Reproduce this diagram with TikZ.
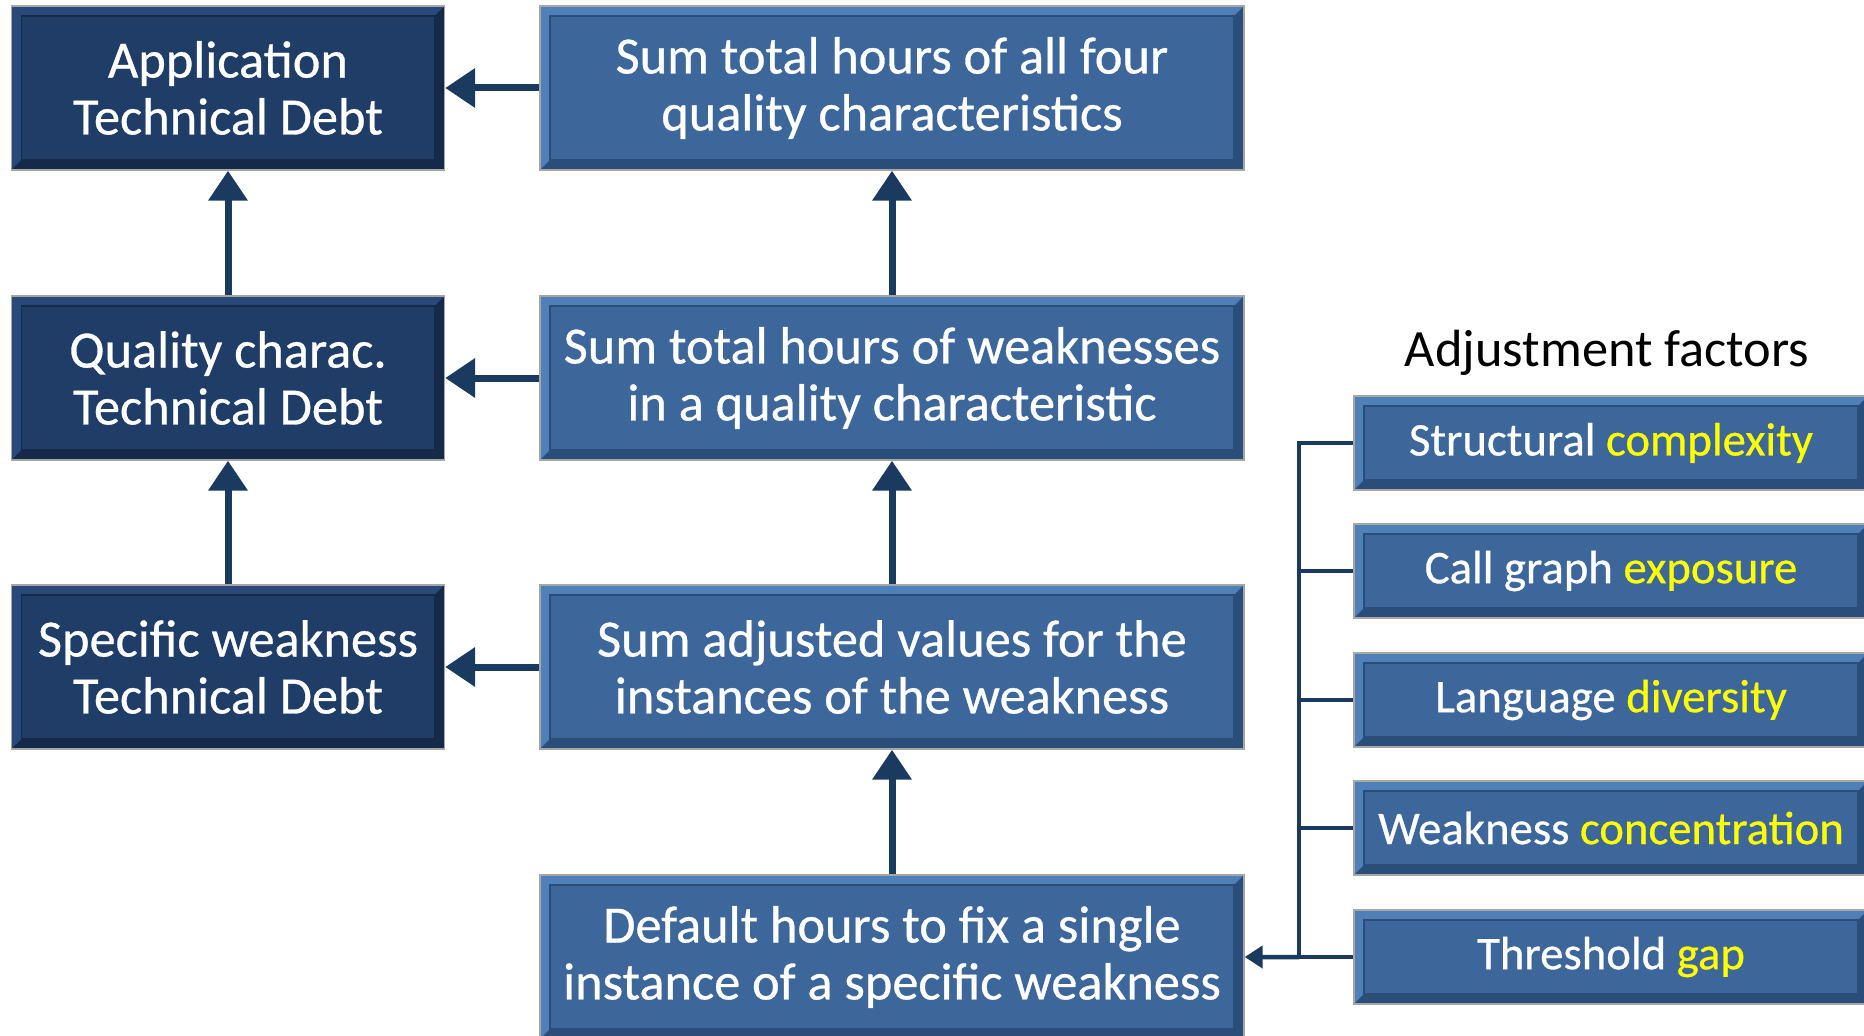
\documentclass[tikz,border=0pt]{standalone}
\usepackage{fontspec}
\setmainfont{Carlito}
\newfontfamily\boxfont{Carlito}[FakeBold=0.6]
\usepackage{xcolor}
\usepackage{tikz}
\usetikzlibrary{arrows.meta,calc}
\definecolor{navyfill}{HTML}{1F3D66}
\definecolor{navylight}{HTML}{29497A}
\definecolor{navydark}{HTML}{142A48}
\definecolor{bluefill}{HTML}{3D679A}
\definecolor{bluelight}{HTML}{5080B8}
\definecolor{bluedark}{HTML}{2A4D7A}
\definecolor{linkcol}{HTML}{1B3A60}
\definecolor{hilite}{HTML}{FFFF00}

\begin{document}
\begin{tikzpicture}[x=0.1mm, y=-0.1mm,
  bevel/.style n args={3}{fill=#1, draw=gray!70, line width=0.4pt,
    path picture={
      \fill[#2] (path picture bounding box.south west) -- (path picture bounding box.north west)
        -- (path picture bounding box.north east) -- ([shift={(-1mm,-1mm)}]path picture bounding box.north east)
        -- ([shift={(1mm,-1mm)}]path picture bounding box.north west) -- ([shift={(1mm,1mm)}]path picture bounding box.south west) -- cycle;
      \fill[#3] (path picture bounding box.south west) -- (path picture bounding box.south east)
        -- (path picture bounding box.north east) -- ([shift={(-1mm,-1mm)}]path picture bounding box.north east)
        -- ([shift={(-1mm,1mm)}]path picture bounding box.south east) -- ([shift={(1mm,1mm)}]path picture bounding box.south west) -- cycle;
      \draw[#3, line width=0.5pt] ([shift={(1mm,1mm)}]path picture bounding box.south west) rectangle ([shift={(-1mm,-1mm)}]path picture bounding box.north east);
    }},
  darkbox/.style={bevel={navyfill}{navylight}{navydark}, minimum width=43.3mm, minimum height=16.4mm,
    text=white, align=center, font=\boxfont\fontsize{14.9}{16.2}\selectfont, inner sep=0pt},
  bluebox/.style={bevel={bluefill}{bluelight}{bluedark}, minimum width=70.4mm, minimum height=16.4mm,
    text=white, align=center, font=\boxfont\fontsize{14.9}{16.2}\selectfont, inner sep=0pt},
  factor/.style={bevel={bluefill}{bluelight}{bluedark}, minimum width=51.4mm, minimum height=9.4mm,
    text=white, font=\boxfont\fontsize{13.3}{16.2}\selectfont, inner sep=0pt},
  link/.style={draw=linkcol, line width=0.7mm, -{Triangle[length=3mm,width=3.8mm]}},
  busline/.style={draw=linkcol, line width=0.45mm}]
\useasboundingbox (0,0) rectangle (1864,1036);
\clip (0,0) rectangle (1864,1036);

\node[darkbox] (app) at (228,88) {Application\\Technical Debt};
\node[darkbox] (qual) at (228,378) {Quality charac.\\Technical Debt};
\node[darkbox] (spec) at (228,667) {Specific weakness\\Technical Debt};

\node[bluebox] (sumall) at (892,88) {Sum total hours of all four\\quality characteristics};
\node[bluebox] (sumqc) at (892,378) {Sum total hours of weaknesses\\in a quality characteristic};
\node[bluebox] (sumadj) at (892,667) {Sum adjusted values for the\\instances of the weakness};
\node[bluebox] (dh) at (892,957) {Default hours to fix a single\\instance of a specific weakness};

\node[font=\fontsize{14.9}{16.2}\selectfont, text=black] (adj) at (1607,353) {Adjustment factors};
\node[factor] (sc) at (1611,443) {Structural \textcolor{hilite}{complexity}};
\node[factor] (cg) at (1611,571) {Call graph \textcolor{hilite}{exposure}};
\node[factor] (ld) at (1611,700) {Language \textcolor{hilite}{diversity}};
\node[factor] (wc) at (1611,828) {Weakness \textcolor{hilite}{concentration}};
\node[factor] (tg) at (1611,957) {Threshold \textcolor{hilite}{gap}};

\draw[link] (sumall) -- (app);
\draw[link] (sumqc) -- (qual);
\draw[link] (sumadj) -- (spec);
\draw[link] (qual) -- (app);
\draw[link] (spec) -- (qual);
\draw[link] (sumqc) -- (sumall);
\draw[link] (sumadj) -- (sumqc);
\draw[link] (dh) -- (sumadj);

\coordinate (jt) at ($(dh.east)!0.5!(tg.west)$);
\foreach \f in {sc,cg,ld,wc,tg}
  \draw[busline] (\f.west) -| (jt);
\draw[busline, -{Triangle[length=1.8mm,width=2.2mm]}] (jt) -- (dh.east);
\end{tikzpicture}
\end{document}
